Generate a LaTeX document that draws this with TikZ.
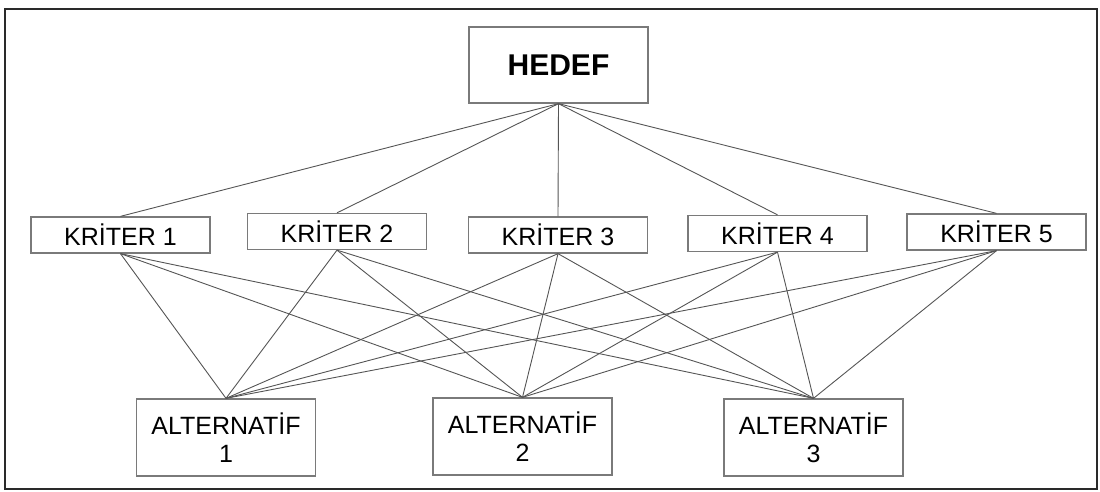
\documentclass[tikz,border=0pt]{standalone}
\usepackage{fontspec}
\setmainfont{Liberation Sans}
\definecolor{boxgray}{HTML}{7A7A7A}
\definecolor{linegray}{HTML}{555555}
\definecolor{framegray}{HTML}{2A2A2A}
\begin{document}
\begin{tikzpicture}[x=1pt,y=-1pt,
  box/.style={draw=boxgray, line width=1.3pt, inner sep=0pt, anchor=center, text=black},
  goal/.style={box, minimum width=179pt, minimum height=76pt, font=\bfseries\fontsize{30}{34}\selectfont},
  crit/.style={box, minimum width=179pt, minimum height=36pt, font=\fontsize{25}{28}\selectfont},
  alt/.style={box, minimum width=179pt, minimum height=77pt, align=center, font=\fontsize{25}{28}\selectfont},
  link/.style={draw=linegray, line width=0.9pt}]
\useasboundingbox (0,0) rectangle (1100,492);
\draw[line width=2.6pt, draw=framegray] (5,9) rectangle (1097,489);

\node[goal] (hedef) at (558.5,65) {HEDEF};

\node[crit] (k1) at (120.5,235) {KRİTER 1};
\node[crit] (k2) at (337,231.5) {KRİTER 2};
\node[crit] (k3) at (558,235) {KRİTER 3};
\node[crit] (k4) at (777.5,233.5) {KRİTER 4};
\node[crit] (k5) at (996.5,232) {KRİTER 5};

\node[alt] (a1) at (226,437.5) {ALTERNATİF\\1};
\node[alt] (a2) at (522.5,436.5) {ALTERNATİF\\2};
\node[alt] (a3) at (813.5,437.5) {ALTERNATİF\\3};

\foreach \k in {k1,k2,k3,k4,k5}{
  \draw[link] (hedef.south) -- (\k.north);
  \foreach \a in {a1,a2,a3}{
    \draw[link] (\k.south) -- (\a.north);
  }
}
\end{tikzpicture}
\end{document}
